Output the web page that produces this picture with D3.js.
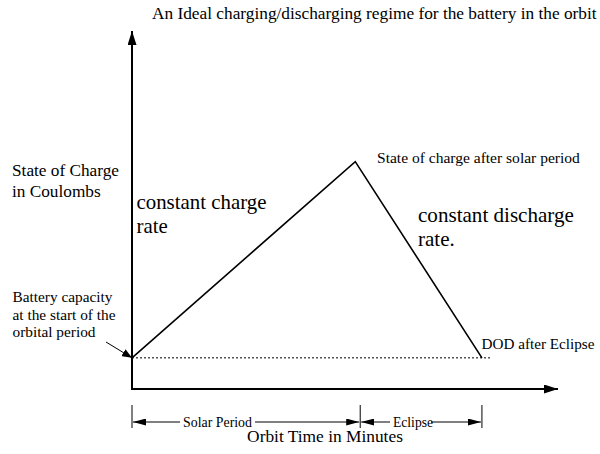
<!DOCTYPE html>
<html>
<head>
<meta charset="utf-8">
<script src="https://cdn.jsdelivr.net/npm/d3@7"></script>
<style>
  body { margin: 0; background: #fff; }
  svg { display: block; }
</style>
</head>
<body>
<svg id="chart" width="600" height="454"></svg>
<script>
// orbit time in minutes, state of charge (arbitrary units)
const chargeTimes = [0, 58.7, 92];
const chargeValues = [8.7, 63.5, 8.7];
const periodNames = ["Solar Period", "Eclipse"];
const periodBounds = [0, 60, 92];
const timeMax = 112;
const chargeMax = 100;

const width = 600, height = 454;
const svg = d3.select("#chart")
    .attr("font-family", "'Liberation Serif', Tinos, 'Nimbus Roman', 'DejaVu Serif', serif");

const x = d3.scaleLinear().domain([0, timeMax]).range([132, 558]);
const y = d3.scaleLinear().domain([0, chargeMax]).range([389, 31]);

// arrow head markers
const defs = svg.append("defs");
function addMarker(id, w, h) {
    defs.append("marker")
        .attr("id", id)
        .attr("viewBox", `0 0 ${w} ${h}`)
        .attr("refX", w)
        .attr("refY", h / 2)
        .attr("markerWidth", w)
        .attr("markerHeight", h)
        .attr("markerUnits", "userSpaceOnUse")
        .attr("orient", "auto-start-reverse")
        .append("path")
        .attr("d", `M0,0L${w},${h / 2}L0,${h}Z`)
        .attr("fill", "#000");
}
addMarker("axisHead", 14, 9);
addMarker("dimHead", 13, 7);
addMarker("noteHead", 10, 8);

// axes
svg.append("line")
    .attr("x1", x(0)).attr("y1", y(0))
    .attr("x2", x(0)).attr("y2", y(chargeMax))
    .attr("stroke", "#000").attr("stroke-width", 2)
    .attr("marker-end", "url(#axisHead)");
svg.append("line")
    .attr("x1", x(0) - 1).attr("y1", y(0))
    .attr("x2", x(timeMax)).attr("y2", y(0))
    .attr("stroke", "#000").attr("stroke-width", 2)
    .attr("marker-end", "url(#axisHead)");

// dotted baseline at starting capacity
svg.append("line")
    .attr("x1", x(0)).attr("y1", y(chargeValues[0]))
    .attr("x2", x(periodBounds[2]) + 10).attr("y2", y(chargeValues[0]))
    .attr("stroke", "#000").attr("stroke-width", 1)
    .attr("stroke-dasharray", "2,2");

// charge curve
const points = chargeTimes.map((t, i) => [t, chargeValues[i]]);
svg.append("path")
    .datum(points)
    .attr("d", d3.line().x(d => x(d[0])).y(d => y(d[1])))
    .attr("fill", "none")
    .attr("stroke", "#000")
    .attr("stroke-width", 1.6);

// sizes a text so its first line spans about the given width
function fitText(sel, targetWidth) {
    const node = sel.node();
    const w = node.getComputedTextLength ? node.getComputedTextLength() : node.getBBox().width;
    const fs = parseFloat(sel.attr("font-size"));
    sel.attr("font-size", (fs * targetWidth / w).toFixed(2) + "px");
}

// period dimension lines
const dimY = 422;
const labelWidths = [69, 40];
const labelCenters = [217.5, 413];
svg.selectAll(".dimTick")
    .data(periodBounds)
    .join("line")
    .attr("x1", d => x(d)).attr("x2", d => x(d))
    .attr("y1", 405).attr("y2", 428)
    .attr("stroke", "#000").attr("stroke-width", 1);

periodNames.forEach((name, i) => {
    const x0 = x(periodBounds[i]), x1 = x(periodBounds[i + 1]);
    const label = svg.append("text")
        .attr("x", labelCenters[i])
        .attr("y", dimY + 4.5)
        .attr("text-anchor", "middle")
        .attr("font-size", "12px")
        .text(name);
    fitText(label, labelWidths[i]);
    const bb = label.node().getBBox();
    svg.append("line")
        .attr("x1", bb.x - 3).attr("y1", dimY)
        .attr("x2", x0 + 1).attr("y2", dimY)
        .attr("stroke", "#000").attr("stroke-width", 1)
        .attr("marker-end", "url(#dimHead)");
    svg.append("line")
        .attr("x1", bb.x + bb.width + (i === 0 ? 3 : -2)).attr("y1", dimY)
        .attr("x2", x1 - 1).attr("y2", dimY)
        .attr("stroke", "#000").attr("stroke-width", 1)
        .attr("marker-end", "url(#dimHead)");
});

// note arrow to starting point
svg.append("line")
    .attr("x1", 106).attr("y1", 342)
    .attr("x2", x(0)).attr("y2", y(chargeValues[0]))
    .attr("stroke", "#000").attr("stroke-width", 1)
    .attr("marker-end", "url(#noteHead)");

// texts: lines, left x, first baseline, line step, width of first line
function addLines(lines, x0, y0, dy, targetWidth) {
    const t = svg.append("text")
        .attr("x", x0).attr("y", y0)
        .attr("font-size", "14px");
    t.selectAll("tspan")
        .data(lines)
        .join("tspan")
        .attr("x", x0)
        .attr("dy", (d, i) => i === 0 ? 0 : dy)
        .text(d => d);
    const first = t.select("tspan");
    const w = first.node().getComputedTextLength();
    t.attr("font-size", (14 * targetWidth / w).toFixed(2) + "px");
    return t;
}

addLines(["An Ideal charging/discharging regime for the battery in the orbit"], 152, 19, 0, 445);
addLines(["State of Charge", "in Coulombs"], 12, 176, 20.5, 107);
addLines(["constant charge", "rate"], 136.5, 209, 24, 130);
addLines(["constant discharge", "rate."], 418, 222, 24, 156);
addLines(["State of charge after solar period"], 377, 163, 0, 203);
addLines(["Battery capacity", "at the start of the", "orbital period"], 12.5, 302, 17.5, 100);
addLines(["DOD after Eclipse"], 481.5, 349, 0, 113);

const axisTitle = svg.append("text")
    .attr("x", 325).attr("y", 442)
    .attr("text-anchor", "middle")
    .attr("font-size", "16px")
    .text("Orbit Time in Minutes");
fitText(axisTitle, 156);
</script>
</body>
</html>
